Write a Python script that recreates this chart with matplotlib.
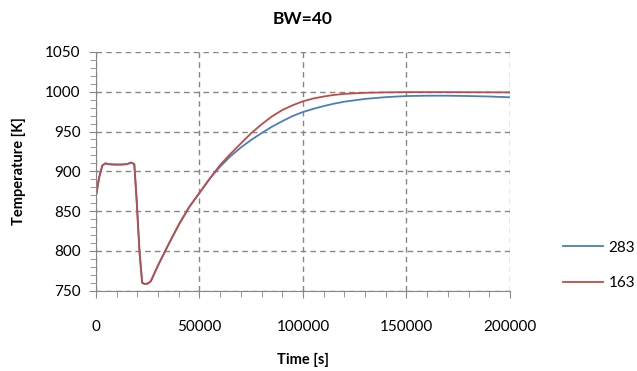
import numpy as np
import matplotlib.pyplot as plt
from matplotlib.ticker import MultipleLocator

plt.rcParams['font.family'] = ['Lato', 'DejaVu Sans']

# time [s]
t = [0, 1500, 3000, 4500, 6000, 9000, 12000, 15000, 17000, 18500, 19500,
     21000, 22300, 23500, 25000, 26500, 30000, 35000, 40000, 45000, 50000,
     55000, 60000, 65000, 70000, 75000, 80000, 85000, 90000, 95000, 100000,
     105000, 110000, 115000, 120000, 130000, 140000, 150000, 160000, 170000,
     180000, 190000, 200000]

# common start-up part (both cases identical up to ~55000 s)
T_start = [869, 892, 907, 910, 909, 908.5, 908.5, 909, 911, 909, 870,
           800, 760, 758.5, 759, 762, 782, 808, 833, 855, 873, 891]

T283 = T_start + [906, 919, 930, 939.5, 948, 956, 963, 969.5, 974.5,
                  978.5, 982, 985, 987.5, 991, 993.2, 994.6, 995, 995,
                  994.6, 994, 993]
T163 = T_start + [908, 922, 935, 948, 959, 969, 977, 983, 988,
                  991.5, 994, 996, 997.3, 998.7, 999.2, 999.5, 999.5, 999.5,
                  999.4, 999.3, 999.2]

labels = ["283", "163"]
colors = ["#4a7ebb", "#be4b48"]

fig = plt.figure(figsize=(6.37, 3.71), dpi=100)
ax = fig.add_axes([0.1507, 0.2164, 0.6499, 0.6436])

ax.plot(t, T283, color=colors[0], lw=1.3, label=labels[0])
ax.plot(t, T163, color=colors[1], lw=1.3, label=labels[1])

ax.set_xlim(0, 200000)
ax.set_ylim(750, 1050)
ax.xaxis.set_major_locator(MultipleLocator(50000))
ax.xaxis.set_minor_locator(MultipleLocator(10000))
ax.yaxis.set_major_locator(MultipleLocator(50))
ax.yaxis.set_minor_locator(MultipleLocator(10))

gray = "#868686"
ax.grid(True, which='major', color=gray, linestyle=(0, (4, 3)), lw=1)
for s in ['top', 'right']:
    ax.spines[s].set_visible(False)
for s in ['left', 'bottom']:
    ax.spines[s].set_color(gray)
ax.tick_params(which='both', color=gray, direction='out', labelsize=11,
               labelcolor='black')
ax.tick_params(which='major', length=5)
ax.tick_params(which='minor', length=4)
ax.tick_params(axis='x', pad=16)
ax.tick_params(axis='y', pad=6)

ax.set_title("BW=40", fontsize=12.5, fontweight='bold', pad=20)
ax.set_xlabel("Time [s]", fontsize=10.5, fontweight='bold', labelpad=14)
ax.set_ylabel("Temperature [K]", fontsize=10.5, fontweight='bold', labelpad=14)

fig.legend(loc='center left', bbox_to_anchor=(0.862, 0.285), frameon=False,
           fontsize=11, handlelength=2.6, labelspacing=1.4, handletextpad=0.4)

fig.savefig("out.png", dpi=100)
